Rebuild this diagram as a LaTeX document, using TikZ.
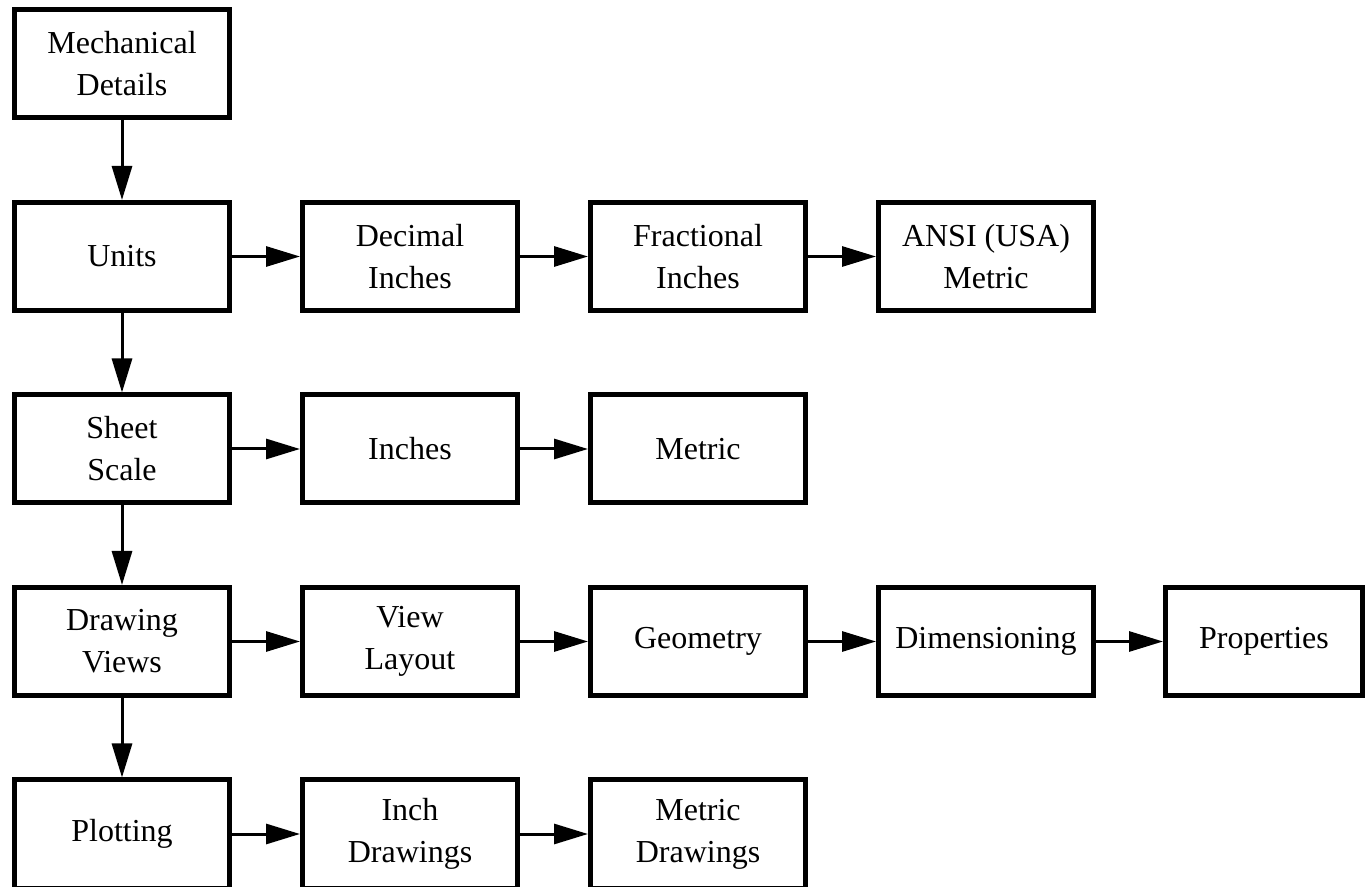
\documentclass[tikz,border=0pt]{standalone}
\usepackage{fontspec}
\setmainfont{Liberation Serif}
\usetikzlibrary{arrows.meta, positioning}

\begin{document}
\begin{tikzpicture}[
		x=0.5pt, y=-0.5pt,
		box/.style={draw=black, line width=2.5pt, minimum width=107.5pt, minimum height=54pt, inner sep=2pt, align=center, font=\fontsize{16}{21}\selectfont},
		link/.style={line width=1.5pt, -{Triangle[length=17pt, width=10pt]}}
		]
		\useasboundingbox (0,0) rectangle (1367,887);
		
		% ==========================================
		% 1. THE BOXES
		% ==========================================
		% Data format: name / column / row / label
		\foreach \name/\col/\row/\txt in {
			mech/0/0/{Mechanical\\Details},
			units/0/1/{Units},
			dec/1/1/{Decimal\\Inches},
			frac/2/1/{Fractional\\Inches},
			ansi/3/1/{ANSI (USA)\\Metric},
			sheet/0/2/{Sheet\\Scale},
			inch/1/2/{Inches},
			metric/2/2/{Metric},
			views/0/3/{Drawing\\Views},
			layout/1/3/{View\\Layout},
			geom/2/3/{Geometry},
			dim/3/3/{Dimensioning},
			plot/0/4/{Plotting},
			inchdwg/1/4/{Inch\\Drawings},
			metdwg/2/4/{Metric\\Drawings}%
		} {
			\node[box] (\name) at (122+\col*288, 64+\row*192.5) {\txt};
		}
		% The last box is a little narrower
		\node[box, minimum width=98.5pt] (props) at (1264, 64+3*192.5) {Properties};
		
		% ==========================================
		% 2. THE ARROWS
		% ==========================================
		% Down the first column
		\foreach \a/\b in {mech/units, units/sheet, sheet/views, views/plot} {
			\draw[link] (\a) -- (\b);
		}
		% Along each row
		\foreach \a/\b in {units/dec, dec/frac, frac/ansi, sheet/inch, inch/metric,
			views/layout, layout/geom, geom/dim, dim/props, plot/inchdwg, inchdwg/metdwg} {
			\draw[link] (\a) -- (\b);
		}
		
	\end{tikzpicture}
\end{document}
